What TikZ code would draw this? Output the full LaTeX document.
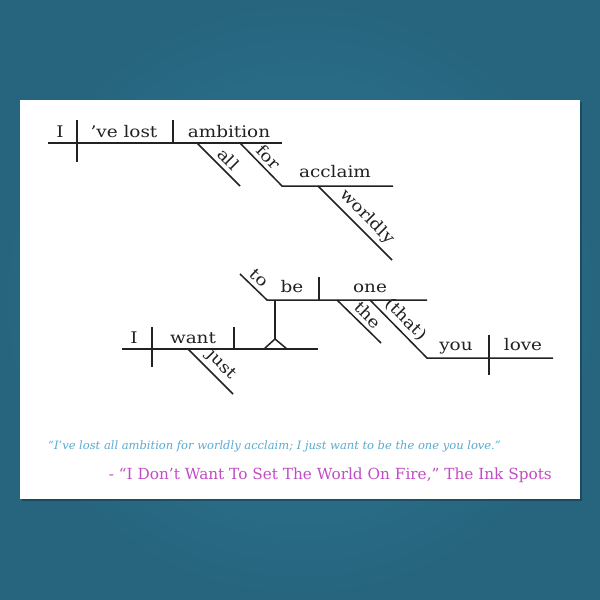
\documentclass[tikz,border=0pt]{standalone}
\usepackage{fontspec}
\setmainfont{DejaVu Serif}
\newfontfamily\diagfont{DejaVu Serif}[FakeStretch=1.15]
\definecolor{bgin}{HTML}{2E7894}
\definecolor{bgout}{HTML}{27657E}
\definecolor{ink}{HTML}{222222}
\definecolor{quoteblue}{HTML}{5AAACF}
\definecolor{quotemag}{HTML}{C24CC6}
\tikzset{
  dline/.style={draw=ink, line width=1.5pt},
  word/.style={anchor=base, inner sep=0pt, font=\diagfont\fontsize{16}{19}\selectfont, text=ink},
  slword/.style={sloped, above=3pt, inner sep=1pt, font=\diagfont\fontsize{16}{19}\selectfont, text=ink},
}
\begin{document}
\begin{tikzpicture}[x=1pt,y=-1pt]
\useasboundingbox (0,0) rectangle (600,600);
\shade[inner color=bgin, outer color=bgout] (0,0) rectangle (600,600);
\fill[black,opacity=0.25] (21.5,101.5) rectangle (582,501);
\fill[white] (20,100) rectangle (580,499);

% ---- first sentence ----
\coordinate (t0) at (48,143);
\coordinate (t1) at (282,143);
\draw[dline] (t0) -- (t1);
\draw[dline] (77,120) -- (77,162);
\draw[dline] (173,120) -- (173,143);
\node[word] (w1) at (60,137) {I};
\node[word] (w2) at (124,137) {’ve lost};
\node[word] (w3) at (229,137) {ambition};
\draw[dline] (197,143) -- node[slword,pos=.55] (w4) {all} (240,186);
\coordinate (f0) at (240,143);
\coordinate (f1) at (282,186);
\coordinate (f2) at (393,186);
\draw[dline] (f0) -- node[slword,pos=.5] (w5) {for} (f1) -- (f2);
\node[word] (w6) at (335,177) {acclaim};
\draw[dline] (318,186) -- node[slword,pos=.54] (w7) {worldly} (392,260);

% ---- second sentence ----
\coordinate (s0) at (122,349);
\coordinate (s1) at (318,349);
\draw[dline] (s0) -- (s1);
\draw[dline] (152,327) -- (152,367);
\draw[dline] (234,327) -- (234,349);
\node[word] (v1) at (134,343) {I};
\node[word] (v2) at (193,343) {want};
\draw[dline] (188,349) -- node[slword,pos=.55] (v3) {just} (233,394);
% pedestal
\coordinate (p0) at (275,300);
\coordinate (p1) at (275,339);
\draw[dline] (p0) -- (p1);
\draw[dline, line join=round] (264,349) -- (p1) -- (287,349);
% infinitive line
\coordinate (u0) at (240,274);
\coordinate (u1) at (267,300);
\coordinate (u2) at (427,300);
\draw[dline] (u0) -- node[slword,pos=.45] (v4) {to} (u1) -- (u2);
\draw[dline] (319,277) -- (319,300);
\node[word] (v5) at (292,292) {be};
\node[word] (v6) at (370,292) {one};
\draw[dline] (337,300) -- node[slword,pos=.53] (v7) {the} (381,343);
\coordinate (r0) at (370,300);
\coordinate (r1) at (427,358);
\coordinate (r2) at (553,358);
\draw[dline] (r0) -- node[slword,pos=.48] (v8) {(that)} (r1) -- (r2);
\draw[dline] (489,335) -- (489,375);
\node[word] (v9) at (456,350) {you};
\node[word] (v10) at (523,350) {love};

% ---- caption ----
\node[anchor=base west, inner sep=0pt, text=quoteblue, font=\fontsize{11.5}{13}\itshape] (q1) at (48,449)
  {“I’ve lost all ambition for worldly acclaim; I just want to be the one you love.”};
\node[anchor=base east, inner sep=0pt, text=quotemag, font=\fontsize{15.3}{18}\selectfont] (q2) at (552,479)
  {- “I Don’t Want To Set The World On Fire,” The Ink Spots};
\end{tikzpicture}
\end{document}
